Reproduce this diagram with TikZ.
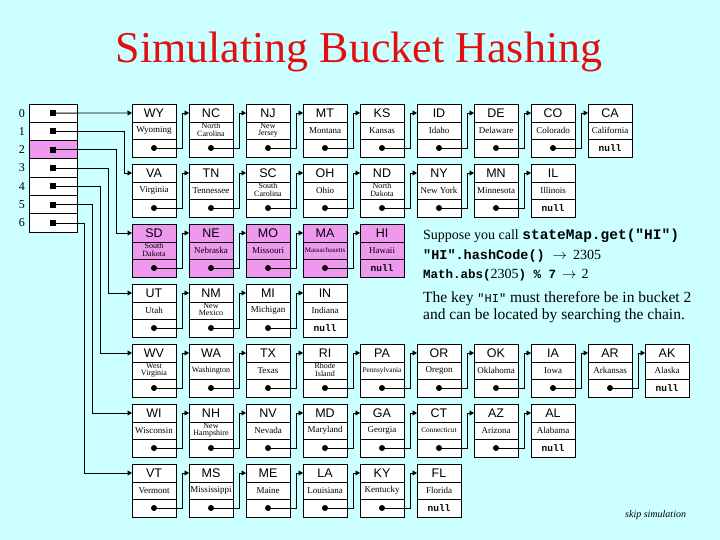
\documentclass[tikz,border=0pt]{standalone}
\usepackage{fontspec}
\setmainfont{Liberation Serif}
\setsansfont{Liberation Sans}
\setmonofont{Liberation Mono}
\usepackage{tikz}
\usetikzlibrary{arrows.meta,positioning,calc}
\definecolor{bgcyan}{HTML}{CCFFFF}
\definecolor{hitpink}{HTML}{EE99EE}
\definecolor{titlered}{HTML}{E01010}

\newcommand{\two}[2]{\fontsize{8}{7.5}\selectfont\begin{tabular}{@{}c@{}}#1\\#2\end{tabular}}
\newcommand{\stnode}[7][white]{%
  \node[abox, fill=#1, anchor=north west] (#2-t) at (#3,#4) {#5};
  \node[nbox, fill=#1, below=0pt of #2-t] (#2-m) {#6};
  \node[pbox, fill=#1, below=0pt of #2-m] (#2-b) {#7};}
\newcommand{\stlink}[2]{%
  \fill (#1-b.center) circle (3pt);
  \draw[arr] (#1-b.center) -| ($(#1-t.east)!.5!(#2-t.west)$) -- (#2-t.west);}

\begin{document}
\begin{tikzpicture}[x=1pt, y=-1pt,
    abox/.style={draw, line width=.8pt, fill=white, minimum width=44pt, minimum height=18pt,
                 inner sep=0pt, outer sep=0pt, font=\fontsize{12.5}{12.5}\sffamily},
    nbox/.style={draw, line width=.8pt, fill=white, minimum width=44pt, minimum height=17pt,
                 inner sep=0pt, outer sep=0pt, font=\fontsize{9}{9}\selectfont},
    pbox/.style={draw, line width=.8pt, fill=white, minimum width=44pt, minimum height=18pt,
                 inner sep=0pt, outer sep=0pt, font=\fontsize{9.5}{9.5}\ttfamily\bfseries},
    cell/.style={draw, line width=.8pt, fill=white, minimum width=48pt, minimum height=18.3pt,
                 inner sep=0pt, outer sep=0pt},
    idx/.style={inner sep=0pt, font=\fontsize{12}{12}\selectfont},
    txt/.style={anchor=base west, inner sep=0pt},
    arr/.style={-{Triangle[length=4.5pt,width=5pt]}, line width=.8pt}]
    \useasboundingbox (0,0) rectangle (720,540);
    \fill[bgcyan] (0,0) rectangle (720,540);
    \node[font=\fontsize{44}{48}\selectfont, text=titlered, anchor=base] (title) at (359,63)
        {Simulating Bucket Hashing};

    % bucket array
    \node[cell, anchor=north west] (b0) at (29,104) {};
    \node[cell, below=0pt of b0] (b1) {};
    \node[cell, below=0pt of b1, fill=hitpink] (b2) {};
    \node[cell, below=0pt of b2] (b3) {};
    \node[cell, below=0pt of b3] (b4) {};
    \node[cell, below=0pt of b4] (b5) {};
    \node[cell, below=0pt of b5] (b6) {};
    \node[idx, left=4pt of b0] (i0) {0};
    \node[idx, left=4pt of b1] (i1) {1};
    \node[idx, left=4pt of b2] (i2) {2};
    \node[idx, left=4pt of b3] (i3) {3};
    \node[idx, left=4pt of b4] (i4) {4};
    \node[idx, left=4pt of b5] (i5) {5};
    \node[idx, left=4pt of b6] (i6) {6};

    % chains
    \stnode{wy}{132}{104}{WY}{Wyoming}{}
    \stnode{nc}{189}{104}{NC}{\two{North}{Carolina}}{}
    \stnode{nj}{246}{104}{NJ}{\two{New}{Jersey}}{}
    \stnode{mt}{303}{104}{MT}{Montana}{}
    \stnode{ks}{360}{104}{KS}{Kansas}{}
    \stnode{id}{417}{104}{ID}{Idaho}{}
    \stnode{de}{474}{104}{DE}{Delaware}{}
    \stnode{co}{531}{104}{CO}{Colorado}{}
    \stnode{ca}{588}{104}{CA}{California}{null}

    \stnode{va}{132}{164}{VA}{Virginia}{}
    \stnode{tn}{189}{164}{TN}{Tennessee}{}
    \stnode{sc}{246}{164}{SC}{\two{South}{Carolina}}{}
    \stnode{oh}{303}{164}{OH}{Ohio}{}
    \stnode{nd}{360}{164}{ND}{\two{North}{Dakota}}{}
    \stnode{ny}{417}{164}{NY}{New York}{}
    \stnode{mn}{474}{164}{MN}{Minnesota}{}
    \stnode{il}{531}{164}{IL}{Illinois}{null}

    \stnode[hitpink]{sd}{132}{224}{SD}{\two{South}{Dakota}}{}
    \stnode[hitpink]{ne}{189}{224}{NE}{Nebraska}{}
    \stnode[hitpink]{mo}{246}{224}{MO}{Missouri}{}
    \stnode[hitpink]{ma}{303}{224}{MA}{\fontsize{7}{7}\selectfont Massachusetts}{}
    \stnode[hitpink]{hi}{360}{224}{HI}{Hawaii}{null}

    \stnode{ut}{132}{284}{UT}{Utah}{}
    \stnode{nm}{189}{284}{NM}{\two{New}{Mexico}}{}
    \stnode{mi}{246}{284}{MI}{Michigan}{}
    \stnode{in}{303}{284}{IN}{Indiana}{null}

    \stnode{wv}{132}{344}{WV}{\two{West}{Virginia}}{}
    \stnode{wa}{189}{344}{WA}{\fontsize{8}{8}\selectfont Washington}{}
    \stnode{tx}{246}{344}{TX}{Texas}{}
    \stnode{ri}{303}{344}{RI}{\two{Rhode}{Island}}{}
    \stnode{pa}{360}{344}{PA}{\fontsize{7.3}{7.3}\selectfont Pennsylvania}{}
    \stnode{or}{417}{344}{OR}{Oregon}{}
    \stnode{ok}{474}{344}{OK}{Oklahoma}{}
    \stnode{ia}{531}{344}{IA}{Iowa}{}
    \stnode{ar}{588}{344}{AR}{Arkansas}{}
    \stnode{ak}{645}{344}{AK}{Alaska}{null}

    \stnode{wi}{132}{404}{WI}{Wisconsin}{}
    \stnode{nh}{189}{404}{NH}{\two{New}{Hampshire}}{}
    \stnode{nv}{246}{404}{NV}{Nevada}{}
    \stnode{md}{303}{404}{MD}{Maryland}{}
    \stnode{ga}{360}{404}{GA}{Georgia}{}
    \stnode{ct}{417}{404}{CT}{\fontsize{7.3}{7.3}\selectfont Connecticut}{}
    \stnode{az}{474}{404}{AZ}{Arizona}{}
    \stnode{al}{531}{404}{AL}{Alabama}{null}

    \stnode{vt}{132}{464}{VT}{Vermont}{}
    \stnode{ms}{189}{464}{MS}{Mississippi}{}
    \stnode{me}{246}{464}{ME}{Maine}{}
    \stnode{la}{303}{464}{LA}{Louisiana}{}
    \stnode{ky}{360}{464}{KY}{Kentucky}{}
    \stnode{fl}{417}{464}{FL}{Florida}{null}

    % links between nodes
    \stlink{wy}{nc} \stlink{nc}{nj} \stlink{nj}{mt} \stlink{mt}{ks}
    \stlink{ks}{id} \stlink{id}{de} \stlink{de}{co} \stlink{co}{ca}
    \stlink{va}{tn} \stlink{tn}{sc} \stlink{sc}{oh} \stlink{oh}{nd}
    \stlink{nd}{ny} \stlink{ny}{mn} \stlink{mn}{il}
    \stlink{sd}{ne} \stlink{ne}{mo} \stlink{mo}{ma} \stlink{ma}{hi}
    \stlink{ut}{nm} \stlink{nm}{mi} \stlink{mi}{in}
    \stlink{wv}{wa} \stlink{wa}{tx} \stlink{tx}{ri} \stlink{ri}{pa} \stlink{pa}{or}
    \stlink{or}{ok} \stlink{ok}{ia} \stlink{ia}{ar} \stlink{ar}{ak}
    \stlink{wi}{nh} \stlink{nh}{nv} \stlink{nv}{md} \stlink{md}{ga}
    \stlink{ga}{ct} \stlink{ct}{az} \stlink{az}{al}
    \stlink{vt}{ms} \stlink{ms}{me} \stlink{me}{la} \stlink{la}{ky} \stlink{ky}{fl}

    % bucket pointers
    \foreach \i in {0,...,6}
        \fill ($(b\i.center)+(-3,-3)$) rectangle ++(6,6);
    \draw[arr] (b0.center) -- (wy-t.west);
    \draw[arr] (b1.center) -| ($(va-t.west)+(-8,0)$) -- (va-t.west);
    \draw[arr] (b2.center) -| ($(sd-t.west)+(-16,0)$) -- (sd-t.west);
    \draw[arr] (b3.center) -| ($(ut-t.west)+(-24,0)$) -- (ut-t.west);
    \draw[arr] (b4.center) -| ($(wv-t.west)+(-32,0)$) -- (wv-t.west);
    \draw[arr] (b5.center) -| ($(wi-t.west)+(-40,0)$) -- (wi-t.west);
    \draw[arr] (b6.center) -| ($(vt-t.west)+(-48,0)$) -- (vt-t.west);

    % explanation
    \node[txt, font=\fontsize{14}{16}\selectfont] (q1) at (423,240)
        {Suppose you call {\fontsize{14.5}{16}\ttfamily\bfseries stateMap.get("HI")}};
    \node[txt, font=\fontsize{14}{16}\selectfont] (q2) at (423,259)
        {{\fontsize{13.5}{16}\ttfamily\bfseries "HI".hashCode()}\hspace{8pt}$\rightarrow$\hspace{6pt}2305};
    \node[txt, font=\fontsize{14}{16}\selectfont] (q3) at (423,278)
        {{\fontsize{12.5}{16}\ttfamily\bfseries Math.abs(}2305{\fontsize{12.5}{16}\ttfamily\bfseries )
         \% 7}\hspace{6pt}$\rightarrow$\hspace{5pt}2};
    \node[txt, font=\fontsize{15.5}{17}\selectfont] (q4) at (423,302)
        {The key {\fontsize{12}{17}\ttfamily "HI"} must therefore be in bucket 2};
    \node[txt, font=\fontsize{15.5}{17}\selectfont] (q5) at (423,319)
        {and can be located by searching the chain.};
    \node[txt, font=\fontsize{10}{12}\itshape] (skip) at (625,517)
        {skip simulation};
\end{tikzpicture}
\end{document}
